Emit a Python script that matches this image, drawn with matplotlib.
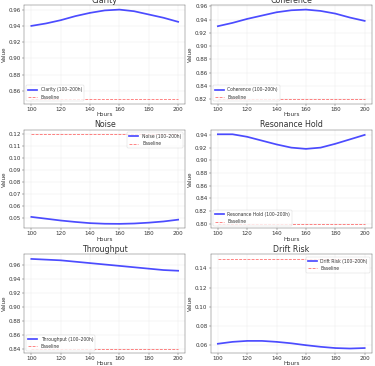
import matplotlib
matplotlib.use("Agg")
import matplotlib.pyplot as plt
from matplotlib.ticker import MultipleLocator, FormatStrFormatter

hours = [100, 110, 120, 130, 140, 150, 160, 170, 180, 190, 200]

clarity = [0.940, 0.943, 0.947, 0.952, 0.956, 0.959, 0.960, 0.958, 0.954, 0.950, 0.945]
coherence = [0.930, 0.935, 0.941, 0.946, 0.951, 0.954, 0.955, 0.953, 0.949, 0.943, 0.938]
noise = [0.0510, 0.0495, 0.0480, 0.0468, 0.0458, 0.0453, 0.0452, 0.0455, 0.0462, 0.0472, 0.0487]
resonance = [0.941, 0.941, 0.937, 0.931, 0.925, 0.920, 0.918, 0.920, 0.926, 0.933, 0.940]
throughput = [0.969, 0.968, 0.967, 0.965, 0.963, 0.961, 0.959, 0.957, 0.955, 0.953, 0.952]
drift = [0.0610, 0.0630, 0.0640, 0.0640, 0.0630, 0.0615, 0.0595, 0.0578, 0.0565, 0.0560, 0.0565]

titles = ["Clarity", "Coherence", "Noise", "Resonance Hold", "Throughput", "Drift Risk"]
series = [clarity, coherence, noise, resonance, throughput, drift]
baselines = [0.85, 0.82, 0.12, 0.80, 0.84, 0.15]
ystep = [0.02, 0.02, 0.01, 0.02, 0.02, 0.02]
legend_loc = ["lower left", "lower left", "upper right", "lower left", "lower left", "upper right"]

plt.rcParams.update({
    "axes.edgecolor": "#333333",
    "axes.grid": True,
    "grid.color": "#e6e6e6",
    "grid.linewidth": 0.8,
    "xtick.color": "#333333",
    "ytick.color": "#333333",
    "axes.labelcolor": "#333333",
    "text.color": "#333333",
})

fig, axes = plt.subplots(3, 2, figsize=(12, 11.712))
for ax, title, vals, base, step, loc in zip(axes.flat, titles, series, baselines, ystep, legend_loc):
    ax.plot(hours, vals, color="blue", lw=4, alpha=0.7, label=f"{title} (100–200h)")
    ax.plot(hours, [base] * len(hours), color="red", ls="--", lw=1.8, alpha=0.6, label="Baseline")
    ax.set_title(title, fontsize=18)
    ax.set_xlabel("Hours", fontsize=13, labelpad=1)
    ax.set_ylabel("Value", fontsize=13)
    ax.yaxis.set_major_locator(MultipleLocator(step))
    ax.yaxis.set_major_formatter(FormatStrFormatter("%.2f"))
    ax.xaxis.set_major_locator(MultipleLocator(20))
    ax.tick_params(labelsize=13)
    ax.legend(loc=loc, fontsize=10.5)

fig.subplots_adjust(left=0.064, right=0.992, bottom=0.0355, top=0.986, wspace=0.155, hspace=0.265)
fig.savefig("out.png", dpi=31.25)
